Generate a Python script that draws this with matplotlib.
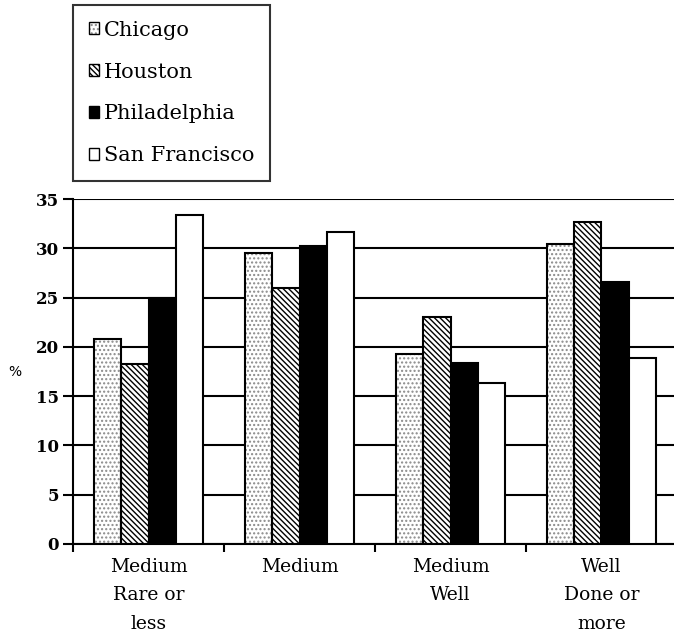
import matplotlib
matplotlib.use("Agg")
import matplotlib.pyplot as plt
from matplotlib.patches import Patch
from matplotlib.legend_handler import HandlerTuple
import numpy as np

categories = ["Medium\nRare or\nless", "Medium", "Medium\nWell", "Well\nDone or\nmore"]
series_names = ["Chicago", "Houston", "Philadelphia", "San Francisco"]
chicago = [20.8, 29.5, 19.3, 30.4]
houston = [18.3, 26.0, 23.0, 32.7]
philadelphia = [25.0, 30.2, 18.4, 26.6]
san_francisco = [33.4, 31.7, 16.3, 18.9]
yticks = [0, 5, 10, 15, 20, 25, 30, 35]

series = [chicago, houston, philadelphia, san_francisco]
styles = [
    dict(face="white", hatch="." * 4, hcolor="#8a8a8a"),
    dict(face="white", hatch="\\" * 6, hcolor="black"),
    dict(face="black", hatch=None, hcolor="black"),
    dict(face="white", hatch=None, hcolor="black"),
]

W, H = 674, 639
fig = plt.figure(figsize=(W / 100, H / 100), dpi=100)
left_px, right_px, top_px, bot_px = 73, 674, 199, 544
ax = fig.add_axes([left_px / W, (H - bot_px) / H, (right_px - left_px) / W, (bot_px - top_px) / H])

group_px = 151.0
xmax = -0.5 + (right_px - left_px) / group_px
ax.set_xlim(-0.5, xmax)
ax.set_ylim(0, 35)

x = np.arange(len(categories))
w = 0.182
offsets = (np.arange(4) - 1.5) * w
handles = []
for vals, st, off, name in zip(series, styles, offsets, series_names):
    if st["hatch"]:
        ax.bar(x + off, vals, w, facecolor=st["face"], edgecolor=st["hcolor"],
               hatch=st["hatch"], linewidth=0, zorder=2)
        ax.bar(x + off, vals, w, facecolor="none", edgecolor="black", linewidth=1.5, zorder=3)
        h = (Patch(facecolor=st["face"], edgecolor=st["hcolor"], hatch=st["hatch"], linewidth=0),
             Patch(facecolor="none", edgecolor="black", linewidth=1.0))
    else:
        ax.bar(x + off, vals, w, facecolor=st["face"], edgecolor="black", linewidth=1.5, zorder=3)
        h = Patch(facecolor=st["face"], edgecolor="black", linewidth=1.0)
    handles.append(h)

ax.set_axisbelow(True)
ax.yaxis.grid(True, color="black", linewidth=1.5)
ax.set_yticks(yticks)
ax.set_yticklabels([str(t) for t in yticks], fontfamily="DejaVu Serif",
                   fontweight="bold", fontsize=12)
ax.tick_params(axis="y", direction="out", length=7, width=1.5, pad=3)

ax.set_xticks(x)
ax.set_xticklabels(categories, fontfamily="DejaVu Serif", fontsize=13.5, linespacing=1.75)
ax.tick_params(axis="x", which="major", length=0, pad=10)
ax.set_xticks(np.arange(0, 4) - 0.5, minor=True)
ax.tick_params(axis="x", which="minor", direction="out", length=6, width=1.5)

for s in ["top", "right"]:
    ax.spines[s].set_visible(False)
ax.spines["left"].set_linewidth(1.5)
ax.spines["bottom"].set_linewidth(1.5)

fig.text(15 / W, 1 - 372 / H, "%", fontsize=10, family="DejaVu Sans", ha="center", va="center")

leg = fig.legend(handles, series_names, loc="upper left",
                 bbox_to_anchor=(left_px / W, 1 - 5 / H),
                 prop=dict(family="DejaVu Serif", size=15),
                 frameon=True, fancybox=False, shadow=False,
                 handlelength=0.5, handleheight=0.5, handletextpad=0.25,
                 labelspacing=1.1, borderpad=0.75, borderaxespad=0,
                 handler_map={tuple: HandlerTuple(ndivide=1)})
leg.get_frame().set_edgecolor("black")
leg.get_frame().set_linewidth(1.5)

fig.savefig("out.png", dpi=100)
